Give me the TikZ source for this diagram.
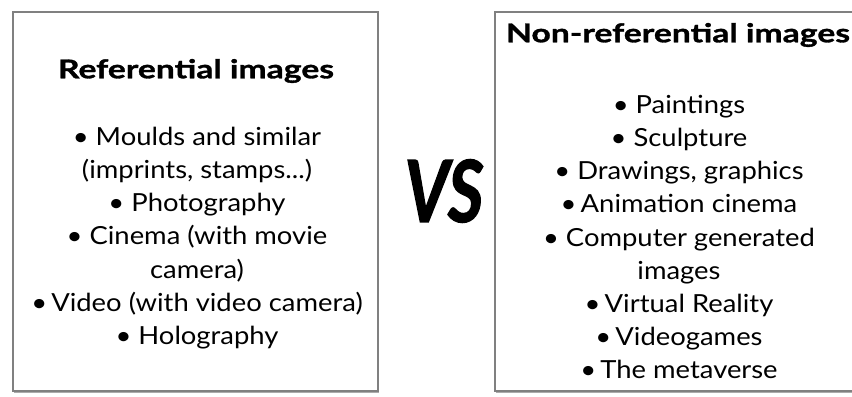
\documentclass[tikz,border=0pt]{standalone}
\usepackage{fontspec}
\setmainfont{Lato}
\newfontfamily\bodyfont{Lato}[FakeStretch=1.1]
\newfontfamily\headfont{Lato}[FakeStretch=1.3, BoldFeatures={FakeBold=1.2}]
\newfontfamily\vsfont{Lato}[FakeStretch=0.8, BoldItalicFeatures={FakeBold=1.5}]
\usetikzlibrary{shadows}
\begin{document}
\begin{tikzpicture}[x=1bp,y=-1bp,
  panel/.style={draw=black!50, line width=1.3bp, fill=white, inner sep=0pt,
    drop shadow={shadow xshift=0.8bp, shadow yshift=-1.6bp, opacity=0.55, fill=black!60}},
  heading/.style={font=\headfont\fontsize{26}{30}\selectfont\bfseries, inner sep=0pt},
  items/.style={font=\bodyfont\fontsize{25}{33.3}\selectfont, align=center, inner sep=0pt},
  versus/.style={font=\vsfont\fontsize{86}{90}\selectfont\bfseries\itshape, inner sep=0pt}]
  \useasboundingbox (0,0) rectangle (852,396);
  % the two panels
  \node[panel, minimum width=365bp, minimum height=379bp] (refbox) at (195.5,201.5) {};
  \node[panel, minimum width=368bp, minimum height=379bp] (nonrefbox) at (679,201.5) {};
  % headings
  \node[heading] (reftitle) at (196,71) {Referential images};
  \node[heading] (nonreftitle) at (678,35) {Non-referential images};
  % lists
  \node[items] (reflist) at (197,238) {%
    • Moulds and similar\\
    (imprints, stamps...)\\
    • Photography\\
    • Cinema (with movie\\
    camera)\\
    •\,Video (with video camera)\\
    • Holography};
  \node[items] (nonreflist) at (679,237) {%
    • Paintings\\
    • Sculpture\\
    • Drawings, graphics\\
    •\,Animation cinema\\
    • Computer generated\\
    images\\
    •\,Virtual Reality\\
    •\,Videogames\\
    •\,The metaverse};
  % the versus sign
  \node[versus] (vs) at (444,191) {VS};
\end{tikzpicture}
\end{document}
